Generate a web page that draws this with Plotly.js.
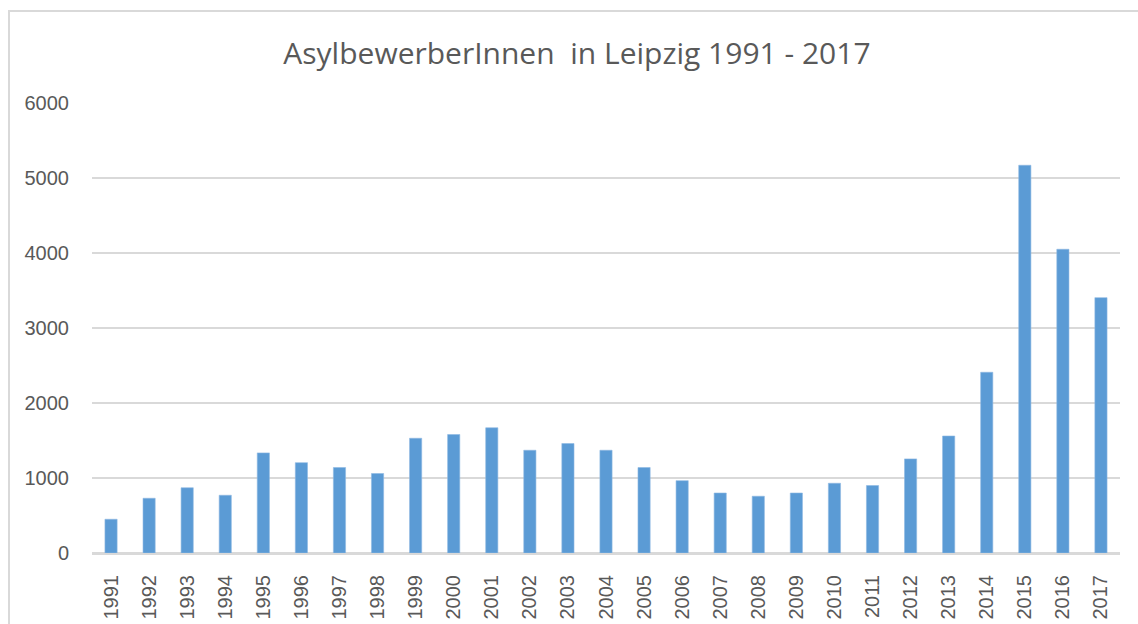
<!DOCTYPE html>
<html>
<head>
<meta charset="utf-8">
<script src="https://cdn.plot.ly/plotly-3.0.1.min.js"></script>
<style>
  html, body { margin: 0; padding: 0; background: #ffffff; overflow: hidden; }
  #chart { width: 1138px; height: 624px; position: absolute; left: 0; top: 0; }
  #frame { position: absolute; left: 8px; top: 10px; width: 2000px; height: 2000px;
           border: 2px solid #d9d9d9; pointer-events: none; }
</style>
</head>
<body>
<div id="chart"></div>
<div id="frame"></div>
<script>
const chartTitle = "AsylbewerberInnen  in Leipzig 1991 - 2017";
const years = ["1991","1992","1993","1994","1995","1996","1997","1998","1999","2000",
               "2001","2002","2003","2004","2005","2006","2007","2008","2009","2010",
               "2011","2012","2013","2014","2015","2016","2017"];
const applicants = [450, 730, 870, 770, 1335, 1205, 1140, 1060, 1530, 1580,
                    1670, 1370, 1460, 1370, 1140, 965, 800, 757, 800, 930,
                    900, 1255, 1560, 2410, 5170, 4050, 3405];
const yTicks = [0, 1000, 2000, 3000, 4000, 5000, 6000];

const trace = {
  type: "bar",
  x: years,
  y: applicants,
  marker: { color: "#5b9bd5", line: { color: "#8fb9e3", width: 0.6 } },
  hoverinfo: "x+y"
};

const layout = {
  width: 1138,
  height: 624,
  margin: { l: 92, r: 18, t: 103, b: 71, pad: 0 },
  paper_bgcolor: "rgba(0,0,0,0)",
  plot_bgcolor: "#ffffff",
  showlegend: false,
  bargap: 0.68,
  title: {
    text: chartTitle,
    font: { family: "Open Sans, sans-serif", size: 30, color: "#595959" },
    xref: "container", x: 0.507, xanchor: "center",
    yref: "container", y: 1 - 53 / 624, yanchor: "middle"
  },
  xaxis: {
    type: "category",
    tickangle: -90,
    tickfont: { family: "Liberation Sans, Arial, sans-serif", size: 20, color: "#595959" },
    ticks: "outside", ticklen: 12, tickcolor: "rgba(0,0,0,0)",
    showgrid: false,
    showline: true, linecolor: "#d9d9d9", linewidth: 2,
    fixedrange: true
  },
  yaxis: {
    range: [0, 6000],
    tickvals: yTicks,
    ticktext: yTicks.map(String),
    tickfont: { family: "Liberation Sans, Arial, sans-serif", size: 20, color: "#595959" },
    ticks: "outside", ticklen: 18, tickcolor: "rgba(0,0,0,0)",
    showgrid: true, gridcolor: "#d9d9d9", gridwidth: 2,
    zeroline: true, zerolinecolor: "#d9d9d9", zerolinewidth: 2,
    showline: false,
    fixedrange: true
  }
};

Plotly.newPlot("chart", [trace], layout, { displayModeBar: false, staticPlot: true });
</script>
</body>
</html>
